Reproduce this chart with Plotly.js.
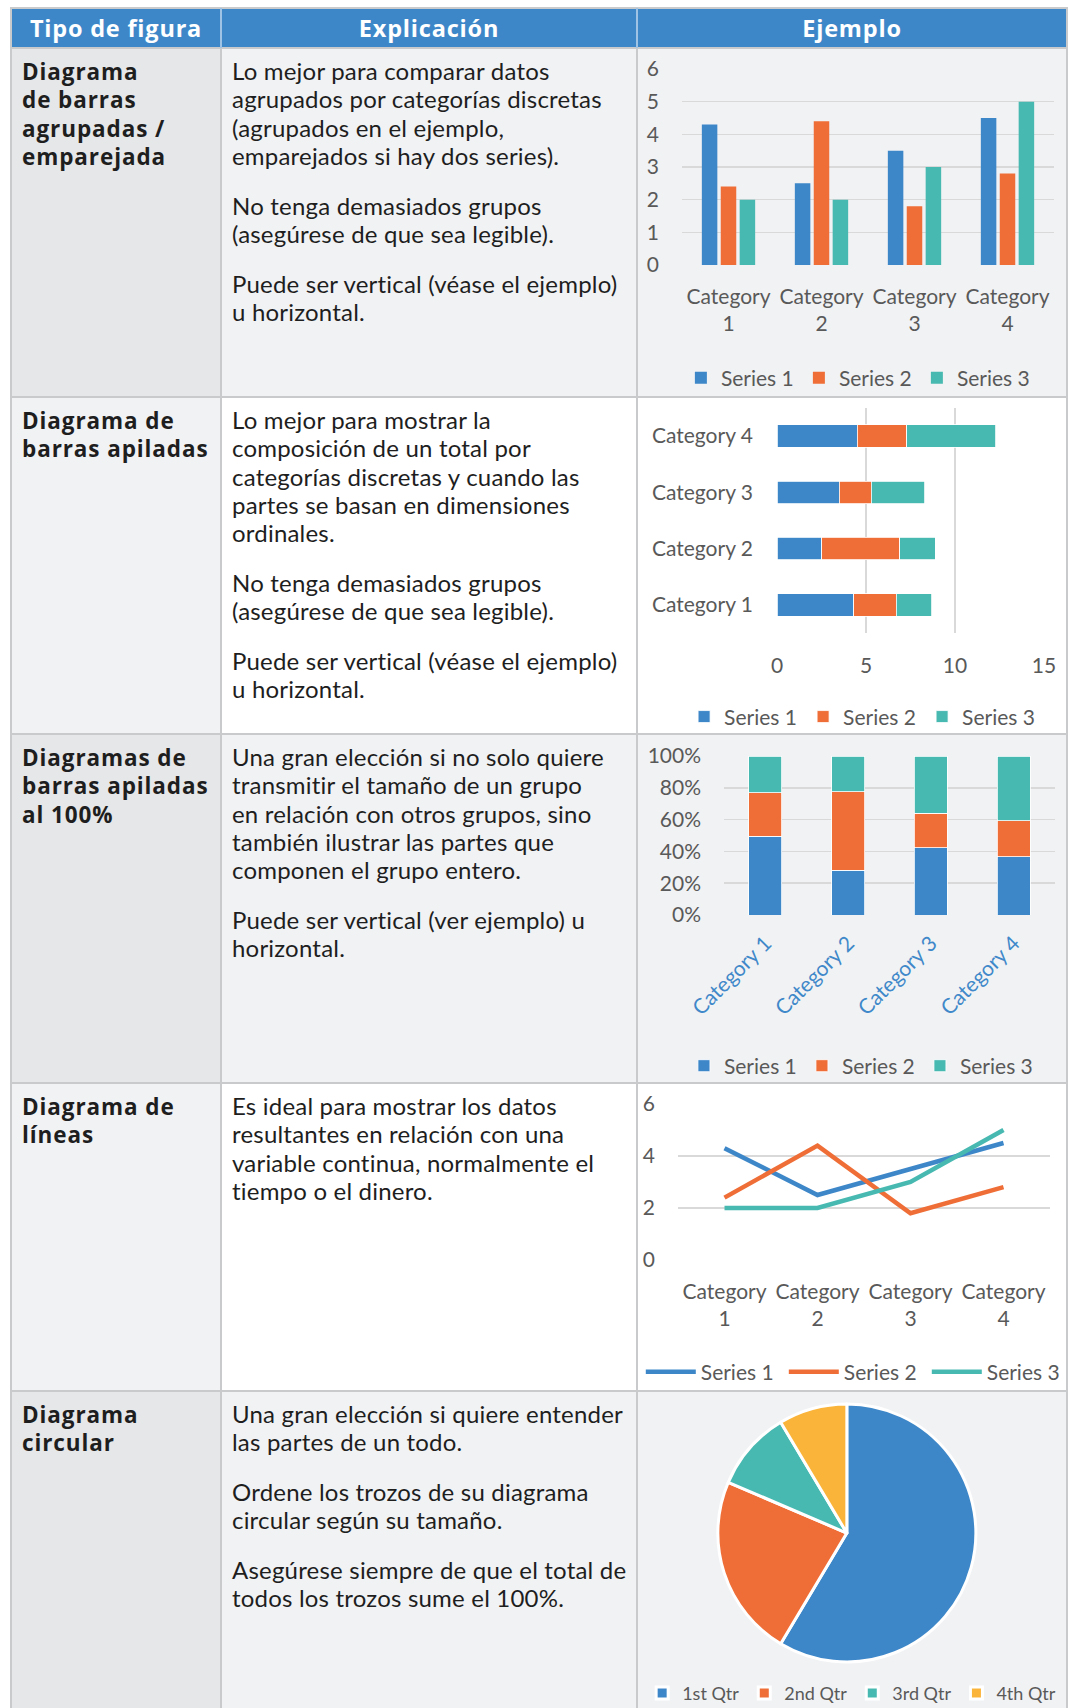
<!DOCTYPE html>
<html>
<head>
<meta charset="utf-8">
<script src="https://cdn.plot.ly/plotly-3.0.1.min.js"></script>
<style>
  html, body { margin:0; padding:0; background:#ffffff; }
  #page { position:relative; width:1070px; height:1708px; overflow:hidden; font-family: Lato, "Open Sans", sans-serif; }
  .bg { position:absolute; }
  .line { position:absolute; background:#c9cacc; }
  .hdr { position:absolute; color:#ffffff; font-family:"Open Sans", Lato, sans-serif; font-weight:700; font-size:23.5px; letter-spacing:0.8px; text-align:center; line-height:40px; }
  .c1 { position:absolute; font-family:"Open Sans", Lato, sans-serif; font-weight:700; font-size:22.5px; letter-spacing:0.9px; line-height:28.3px; color:#1e1e1e; white-space:nowrap; }
  .c2 { position:absolute; font-size:24px; letter-spacing:0.2px; line-height:28.3px; color:#1e1e1e; white-space:nowrap; }
  .c2 p { margin:0 0 21.5px 0; }
  .chart { position:absolute; }
</style>
</head>
<body>
<div id="page"></div>
<script>
// ---------- data ----------
const categories = ['Category 1', 'Category 2', 'Category 3', 'Category 4'];
const seriesNames = ['Series 1', 'Series 2', 'Series 3'];
const series1 = [4.3, 2.5, 3.5, 4.5];
const series2 = [2.4, 4.4, 1.8, 2.8];
const series3 = [2, 2, 3, 5];
const pieLabels = ['1st Qtr', '2nd Qtr', '3rd Qtr', '4th Qtr'];
const pieValues = [8.2, 3.2, 1.4, 1.2];

const headerTexts = ['Tipo de figura', 'Explicación', 'Ejemplo'];
const rowTitles = [
  'Diagrama<br>de barras<br>agrupadas /<br>emparejada',
  'Diagrama de<br>barras apiladas',
  'Diagramas de<br>barras apiladas<br>al 100%',
  'Diagrama de<br>líneas',
  'Diagrama<br>circular'
];
const rowTexts = [
  ['Lo mejor para comparar datos<br>agrupados por categorías discretas<br>(agrupados en el ejemplo,<br>emparejados si hay dos series).',
   'No tenga demasiados grupos<br>(asegúrese de que sea legible).',
   'Puede ser vertical (véase el ejemplo)<br>u horizontal.'],
  ['Lo mejor para mostrar la<br>composición de un total por<br>categorías discretas y cuando las<br>partes se basan en dimensiones<br>ordinales.',
   'No tenga demasiados grupos<br>(asegúrese de que sea legible).',
   'Puede ser vertical (véase el ejemplo)<br>u horizontal.'],
  ['Una gran elección si no solo quiere<br>transmitir el tamaño de un grupo<br>en relación con otros grupos, sino<br>también ilustrar las partes que<br>componen el grupo entero.',
   'Puede ser vertical (ver ejemplo) u<br>horizontal.'],
  ['Es ideal para mostrar los datos<br>resultantes en relación con una<br>variable continua, normalmente el<br>tiempo o el dinero.'],
  ['Una gran elección si quiere entender<br>las partes de un todo.',
   'Ordene los trozos de su diagrama<br>circular según su tamaño.',
   'Asegúrese siempre de que el total de<br>todos los trozos sume el 100%.']
];

// ---------- table layout ----------
const colX = [11, 221, 637, 1067];
const rowY = [48, 397, 734, 1083, 1391, 1708];
const hdrTop = 8;
const blue = '#3d87c9', orange = '#ef6e37', teal = '#48b9b1', yellow = '#fbb43a';
const colors = [blue, orange, teal];

const page = document.getElementById('page');
function box(cls, x, y, w, h, bg) {
  const d = document.createElement('div');
  d.className = cls;
  d.style.left = x + 'px'; d.style.top = y + 'px';
  d.style.width = w + 'px'; d.style.height = h + 'px';
  if (bg) d.style.background = bg;
  page.appendChild(d);
  return d;
}
box('bg', colX[0], hdrTop, colX[3] - colX[0], rowY[0] - hdrTop, blue);
for (let r = 0; r < 5; r++) {
  const odd = r % 2 === 0;
  box('bg', colX[0], rowY[r], colX[1] - colX[0], rowY[r + 1] - rowY[r], odd ? '#e6e7e9' : '#f1f2f4');
  box('bg', colX[1], rowY[r], colX[3] - colX[1], rowY[r + 1] - rowY[r], odd ? '#f1f2f4' : '#ffffff');
}
const lw = 2;
box('line', colX[0] - 1, hdrTop - 1, colX[3] - colX[0] + 2, lw);
for (let r = 0; r < 5; r++) box('line', colX[0] - 1, rowY[r] - 1, colX[3] - colX[0] + 2, lw);
for (let c = 0; c < 4; c++) {
  box('line', colX[c] - 1, hdrTop - 1, lw, 1708 - hdrTop + 1);
  if (c === 1 || c === 2) {
    box('line', colX[c] - 1, hdrTop, lw, rowY[0] - hdrTop).style.background = '#9fc3e4';
  }
}
for (let c = 0; c < 3; c++) {
  const h = box('hdr', colX[c], hdrTop, colX[c + 1] - colX[c], rowY[0] - hdrTop);
  h.innerHTML = headerTexts[c];
}
for (let r = 0; r < 5; r++) {
  const t1 = box('c1', colX[0] + 11, rowY[r] + 10, colX[1] - colX[0] - 12, 0);
  t1.style.height = 'auto';
  t1.innerHTML = rowTitles[r];
  const t2 = box('c2', colX[1] + 11, rowY[r] + 9, colX[2] - colX[1] - 12, 0);
  t2.style.height = 'auto';
  t2.innerHTML = rowTexts[r].map(p => '<p>' + p + '</p>').join('');
}

// ---------- charts ----------
const gray = '#595959';
const grid = '#d9d9d9';
const fnt = { family: 'Lato, "Open Sans", sans-serif', size: 21, color: gray };
const cfg = { staticPlot: true, displayModeBar: false };
function chartDiv(r, extraLeft) {
  const e = extraLeft || 0;
  return box('chart', colX[2] - e, rowY[r], colX[3] - colX[2] + e, rowY[r + 1] - rowY[r]);
}
const allSeries = [series1, series2, series3];
const legendBase = { orientation: 'h', xanchor: 'left', yanchor: 'middle', font: fnt,
  bgcolor: 'rgba(0,0,0,0)', entrywidth: 73, entrywidthmode: 'pixels', traceorder: 'normal' };

// Chart 1: clustered columns
{
  const d = chartDiv(0);
  const xs = categories.map(c => c.replace(' ', '<br>'));
  const traces = allSeries.map((s, i) => ({ type: 'bar', x: xs, y: s, name: seriesNames[i],
    marker: { color: colors[i] } }));
  Plotly.newPlot(d, traces, {
    width: 430, height: 349, margin: { l: 45, r: 13, t: 21, b: 132, autoexpand: false },
    paper_bgcolor: 'rgba(0,0,0,0)', plot_bgcolor: 'rgba(0,0,0,0)', font: fnt,
    barmode: 'group', bargap: 0.39, bargroupgap: 0.18,
    xaxis: { showgrid: false, zeroline: false, showline: false, ticks: '', ticklabelstandoff: 17, tickfont: fnt, automargin: false },
    yaxis: { range: [0, 6], dtick: 1, gridcolor: grid, gridwidth: 1.5, zeroline: false, ticks: '', ticklabelstandoff: 22, tickfont: fnt, automargin: false },
    legend: Object.assign({}, legendBase, { x: -0.003, y: -0.577 }),
    showlegend: true
  }, cfg);
}

// Chart 2: stacked horizontal bars
{
  const d = chartDiv(1);
  const traces = allSeries.map((s, i) => ({ type: 'bar', orientation: 'h', y: categories, x: s, name: seriesNames[i],
    marker: { color: colors[i], line: { color: '#ffffff', width: 0.8 } } }));
  Plotly.newPlot(d, traces, {
    width: 430, height: 337, margin: { l: 140, r: 23, t: 11, b: 101, autoexpand: false },
    paper_bgcolor: 'rgba(0,0,0,0)', plot_bgcolor: 'rgba(0,0,0,0)', font: fnt,
    barmode: 'stack', bargap: 0.6,
    xaxis: { range: [0, 15], dtick: 5, gridcolor: grid, gridwidth: 1.5, zeroline: false, ticks: '', ticklabelstandoff: 18, tickfont: fnt, automargin: false },
    yaxis: { showgrid: false, zeroline: false, ticks: '', ticklabelstandoff: 23, tickfont: fnt, automargin: false },
    legend: Object.assign({}, legendBase, { x: -0.348, y: -0.373, entrywidth: 74 }),
    showlegend: true
  }, cfg);
}

// Chart 3: 100% stacked columns
{
  const d = chartDiv(2);
  const traces = allSeries.map((s, i) => ({ type: 'bar', x: categories, y: s, name: seriesNames[i],
    marker: { color: colors[i], line: { color: '#ffffff', width: 0.8 } } }));
  Plotly.newPlot(d, traces, {
    width: 430, height: 349, margin: { l: 87, r: 12, t: 22, b: 168, autoexpand: false },
    paper_bgcolor: 'rgba(0,0,0,0)', plot_bgcolor: 'rgba(0,0,0,0)', font: fnt,
    barmode: 'stack', barnorm: 'percent', bargap: 0.6,
    xaxis: { showgrid: false, zeroline: false, ticks: '', tickangle: -45, ticklabelstandoff: 11, automargin: false,
      tickfont: { family: fnt.family, size: 21, color: '#3f88c9' } },
    yaxis: { range: [0, 100], dtick: 20, ticksuffix: '%', gridcolor: grid, gridwidth: 1.5, zeroline: false, ticks: '', ticklabelstandoff: 22, tickfont: fnt, automargin: false },
    legend: Object.assign({}, legendBase, { x: -0.121, y: -0.95 }),
    showlegend: true
  }, cfg);
}

// Chart 4: lines (div extended to the left so the legend has room on one row)
{
  const ext = 40;
  const d = chartDiv(3, ext);
  const xs = categories.map(c => c.replace(' ', '<br>'));
  const traces = allSeries.map((s, i) => ({ type: 'scatter', mode: 'lines', x: xs, y: s, name: seriesNames[i],
    line: { color: colors[i], width: 4.5 } }));
  Plotly.newPlot(d, traces, {
    width: 430 + ext, height: 308, margin: { l: 41 + ext, r: 17, t: 21, b: 131, autoexpand: false },
    paper_bgcolor: 'rgba(0,0,0,0)', plot_bgcolor: 'rgba(0,0,0,0)', font: fnt,
    xaxis: { range: [-0.5, 3.5], showgrid: false, zeroline: false, ticks: '', ticklabelstandoff: 17, tickfont: fnt, automargin: false },
    yaxis: { range: [0, 6], dtick: 2, gridcolor: grid, gridwidth: 1.5, zeroline: false, ticks: '', ticklabelstandoff: 22, tickfont: fnt, automargin: false },
    legend: Object.assign({}, legendBase, { x: -0.1, y: -0.718, itemwidth: 50, entrywidth: 78 }),
    showlegend: true
  }, cfg);
}

// Chart 5: pie
{
  const d = chartDiv(4);
  Plotly.newPlot(d, [{ type: 'pie', labels: pieLabels, values: pieValues, sort: false,
    direction: 'clockwise', rotation: 0, textinfo: 'none',
    marker: { colors: [blue, orange, teal, yellow], line: { color: '#ffffff', width: 3 } },
    domain: { x: [0.188, 0.788], y: [0.145, 0.959] } }], {
    width: 430, height: 317, margin: { l: 0, r: 0, t: 0, b: 0, autoexpand: false },
    paper_bgcolor: 'rgba(0,0,0,0)', font: fnt,
    legend: Object.assign({}, legendBase, { x: 0.012, y: 0.046, entrywidth: 0,
      font: { family: fnt.family, size: 18, color: gray } }),
    showlegend: true
  }, cfg);
}
</script>
</body>
</html>
